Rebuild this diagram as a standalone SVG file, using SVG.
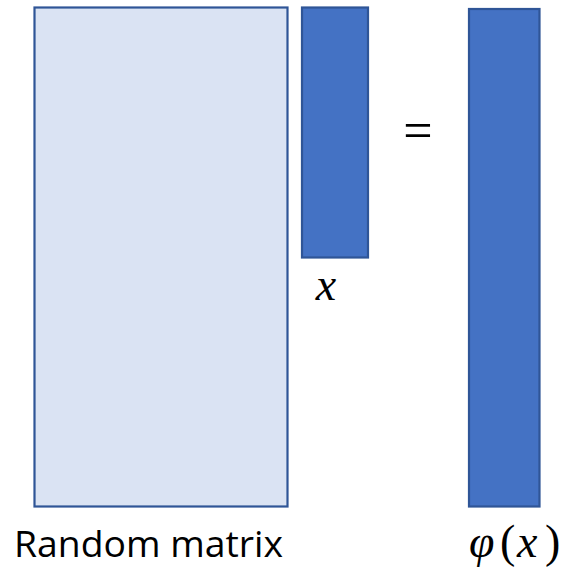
<svg xmlns="http://www.w3.org/2000/svg" width="569" height="571" viewBox="0 0 569 571">
<style>
.mat{fill:#DAE3F3;stroke:#2F5597;stroke-width:2.2}
.vec{fill:#4472C4;stroke:#2F5597;stroke-width:2.2}
.lbl{font-family:"Open Sans","Liberation Sans",Arial,sans-serif;fill:#000}
.math{font-family:"Liberation Serif","Times New Roman",serif;fill:#000}
.it{font-style:italic}
</style>
<rect width="569" height="571" fill="#fff"/>
<g id="matrix">
<rect class="mat" x="34.5" y="7.5" width="253" height="499"/>
<text class="lbl" x="14" y="557" font-size="37" textLength="269" lengthAdjust="spacingAndGlyphs">Random matrix</text>
</g>
<g id="x">
<rect class="vec" x="302" y="7.5" width="66" height="250"/>
<text class="math it" x="326" y="300" font-size="46" text-anchor="middle">x</text>
</g>
<g id="equals">
<text class="math" x="418" y="148" font-size="52" text-anchor="middle">=</text>
</g>
<g id="phi">
<rect class="vec" x="469" y="9" width="70.5" height="497.5"/>
<text class="math" y="557" font-size="46"><tspan class="it" x="469">φ</tspan><tspan x="500">(</tspan><tspan class="it" x="517">x</tspan><tspan x="545">)</tspan></text>
</g>
<g id="connectors"></g>
</svg>
